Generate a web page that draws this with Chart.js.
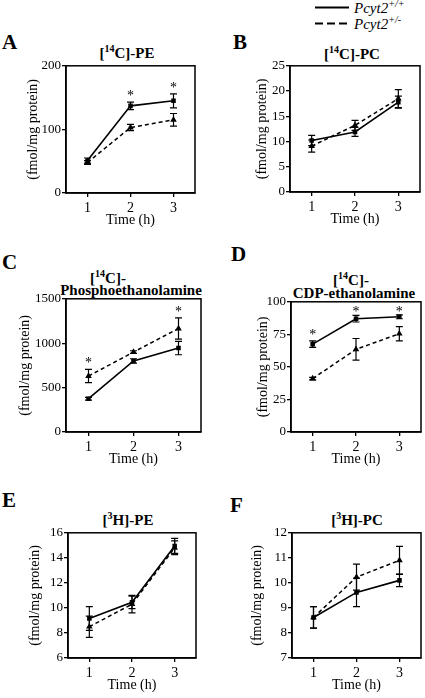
<!DOCTYPE html>
<html>
<head>
<meta charset="utf-8">
<script src="https://cdn.jsdelivr.net/npm/chart.js@4"></script>
<style>
  body { margin: 0; width: 425px; height: 698px; overflow: hidden; background: #fff; position: relative;
         font-family: "Liberation Serif", "DejaVu Serif", "Times New Roman", serif; color: #000; }
  canvas { position: absolute; }
  .lbl { position: absolute; white-space: nowrap; }
  .let { font-size: 21px; line-height: 21px; font-weight: bold; }
  .ttl { font-size: 15px; line-height: 15px; font-weight: bold; transform: translateX(-50%); }
  .leg { font-size: 15px; line-height: 15px; font-style: italic; }
  sup { font-size: 10px; line-height: 0; }
</style>
</head>
<body>
<!-- panel letters -->
<div class="lbl let" style="left:2px;top:32px">A</div>
<div class="lbl let" style="left:233px;top:32px">B</div>
<div class="lbl let" style="left:2px;top:252px">C</div>
<div class="lbl let" style="left:231px;top:244px">D</div>
<div class="lbl let" style="left:2px;top:490px">E</div>
<div class="lbl let" style="left:230px;top:495px">F</div>

<!-- panel titles -->
<div class="lbl ttl" style="left:127px;top:46px">[<sup>14</sup>C]-PE</div>
<div class="lbl ttl" style="left:352px;top:47px">[<sup>14</sup>C]-PC</div>
<div class="lbl ttl" style="left:108px;top:271px">[<sup>14</sup>C]-</div>
<div class="lbl ttl" style="left:131px;top:283px">Phosphoethanolamine</div>
<div class="lbl ttl" style="left:351px;top:273px">[<sup>14</sup>C]-</div>
<div class="lbl ttl" style="left:354px;top:286px">CDP-ethanolamine</div>
<div class="lbl ttl" style="left:128px;top:513px">[<sup>3</sup>H]-PE</div>
<div class="lbl ttl" style="left:357px;top:513px">[<sup>3</sup>H]-PC</div>

<!-- legend -->
<svg style="position:absolute;left:314px;top:0" width="36" height="30">
  <line x1="1" y1="7.5" x2="35" y2="7.5" stroke="#000" stroke-width="2"/>
  <line x1="1" y1="23.5" x2="35" y2="23.5" stroke="#000" stroke-width="2" stroke-dasharray="8,4"/>
</svg>
<div class="lbl leg" style="left:354px;top:1px">Pcyt2<sup>+/+</sup></div>
<div class="lbl leg" style="left:354px;top:17px">Pcyt2<sup>+/-</sup></div>

<script>
const times = [1, 2, 3];

// A: [14C]-PE
const aTicks = [0, 100, 200];
const aWt = [51, 137, 145], aWtErr = [4, 6, 11];
const aHet = [48, 103, 115], aHetErr = [3, 5, 10];
const aStars = [0, 1, 1];

// B: [14C]-PC
const bTicks = [0, 5, 10, 15, 20, 25];
const bWt = [10.2, 11.9, 17.8], bWtErr = [1.0, 0.9, 1.2];
const bHet = [9.1, 13.2, 18.5], bHetErr = [1.2, 1.0, 1.8];
const bStars = [0, 0, 0];

// C: [14C]-Phosphoethanolamine
const cTicks = [0, 500, 1000, 1500];
const cWt = [375, 800, 945], cWtErr = [15, 25, 75];
const cHet = [630, 900, 1165], cHetErr = [75, 15, 120];
const cStars = [1, 0, 1];

// D: [14C]-CDP-ethanolamine
const dTicks = [0, 25, 50, 75, 100];
const dWt = [67.5, 87, 88.5], dWtErr = [2.5, 2.5, 1.5];
const dHet = [41, 63.5, 75.5], dHetErr = [1, 8.3, 5.5];
const dStars = [1, 1, 1];

// E: [3H]-PE
const eTicks = [6, 8, 10, 12, 14, 16];
const eWt = [9.15, 10.45, 14.95], eWtErr = [0.95, 0.5, 0.6];
const eHet = [8.5, 10.3, 14.8], eHetErr = [0.85, 0.7, 0.55];
const eStars = [0, 0, 0];

// F: [3H]-PC
const fTicks = [7, 8, 9, 10, 11, 12];
const fWt = [8.62, 9.62, 10.1], fWtErr = [0.43, 0.57, 0.25];
const fHet = [8.62, 10.23, 10.9], fHetErr = [0.43, 0.52, 0.56];
const fStars = [0, 0, 0];

const serif = '"Liberation Serif", "DejaVu Serif", serif';

// error bars, asterisks and the closed frame round the plot
const extras = {
  id: 'extras',
  afterDatasetsDraw(chart) {
    const ctx = chart.ctx, ys = chart.scales.y;
    ctx.save();
    ctx.strokeStyle = '#000';
    ctx.lineWidth = 1.2;
    chart.data.datasets.forEach((ds, i) => {
      const meta = chart.getDatasetMeta(i);
      ds.errors.forEach((e, j) => {
        const x = meta.data[j].x;
        const v = ds.data[j].y;
        const y1 = ys.getPixelForValue(v + e), y2 = ys.getPixelForValue(v - e);
        ctx.beginPath();
        ctx.moveTo(x, y1); ctx.lineTo(x, y2);
        ctx.moveTo(x - 3.5, y1); ctx.lineTo(x + 3.5, y1);
        ctx.moveTo(x - 3.5, y2); ctx.lineTo(x + 3.5, y2);
        ctx.stroke();
      });
    });
    ctx.restore();
  },
  afterDraw(chart, args, opts) {
    const ctx = chart.ctx, a = chart.chartArea;
    const xs = chart.scales.x, ys = chart.scales.y;
    ctx.save();
    ctx.strokeStyle = '#000';
    ctx.lineWidth = 1.5;
    ctx.strokeRect(a.left, a.top, a.right - a.left, a.bottom - a.top);
    ctx.fillStyle = '#000';
    ctx.font = '14px ' + serif;
    ctx.textAlign = 'center';
    opts.stars.forEach((s, j) => {
      if (!s) return;
      let top = -Infinity;
      chart.data.datasets.forEach(ds => { top = Math.max(top, ds.data[j].y + ds.errors[j]); });
      let cy = ys.getPixelForValue(top) - 9;
      cy = Math.max(cy, a.top + 7);
      ctx.fillText('*', xs.getPixelForValue(times[j]), cy + 7);
    });
    ctx.restore();
  }
};

function panel(box, yTicks, wt, wtErr, het, hetErr, stars, yOff) {
  const padR = Math.min(4, 425 - box[2]);
  const cv = document.createElement('canvas');
  cv.width = box[2] - box[0] + 66 + padR;
  cv.height = box[3] - box[1] + 6 + 38;
  cv.style.left = (box[0] - 66) + 'px';
  cv.style.top = (box[1] - 6) + 'px';
  document.body.appendChild(cv);

  const pts = vals => times.map((t, i) => ({ x: t, y: vals[i] }));
  const gridOpts = { drawOnChartArea: false, drawTicks: true, tickLength: 4, color: '#000', lineWidth: 1.3 };

  new Chart(cv, {
    type: 'line',
    data: {
      datasets: [
        { data: pts(het), errors: hetErr, borderColor: '#000', backgroundColor: '#000', borderWidth: 1.5,
          borderDash: [4, 3], pointStyle: 'triangle', pointRadius: 3.8, pointBorderWidth: 0 },
        { data: pts(wt), errors: wtErr, borderColor: '#000', backgroundColor: '#000', borderWidth: 1.6,
          pointStyle: 'rect', pointRadius: 3.2, pointBorderWidth: 0 }
      ]
    },
    options: {
      responsive: false,
      animation: false,
      devicePixelRatio: 1,
      layout: { padding: { top: 6, right: padR, left: 0, bottom: 0 } },
      plugins: { legend: { display: false }, tooltip: { enabled: false }, extras: { stars: stars } },
      scales: {
        x: {
          type: 'linear', min: 0.5, max: 3.5,
          afterBuildTicks: s => { s.ticks = times.map(v => ({ value: v })); },
          afterFit: s => { s.height = 38; },
          grid: gridOpts,
          border: { color: '#000', width: 1.5 },
          ticks: { color: '#000', font: { family: serif, size: 14 }, padding: 3, maxRotation: 0,
                   callback: v => String(v) },
          title: { display: true, text: 'Time (h)', color: '#000', font: { family: serif, size: 14 },
                   padding: { top: 0, bottom: 2 } }
        },
        y: {
          min: yTicks[0], max: yTicks[yTicks.length - 1],
          afterBuildTicks: s => { s.ticks = yTicks.map(v => ({ value: v })); },
          afterFit: s => { s.width = 66; },
          grid: gridOpts,
          border: { color: '#000', width: 1.5 },
          ticks: { color: '#000', font: { family: serif, size: 13 }, padding: 1, callback: v => String(v) },
          title: { display: true, text: '(fmol/mg protein)', color: '#000', font: { family: serif, size: 14 },
                   padding: { top: 66 - yOff - 8.4, bottom: 0 } }
        }
      }
    },
    plugins: [extras]
  });
}

panel([66, 63, 195, 193], aTicks, aWt, aWtErr, aHet, aHetErr, aStars, 33);
panel([290, 63, 420, 192], bTicks, bWt, bWtErr, bHet, bHetErr, bStars, 28);
panel([66, 296, 201, 432], cTicks, cWt, cWtErr, cHet, cHetErr, cStars, 41);
panel([291, 299, 423, 432], dTicks, dWt, dWtErr, dHet, dHetErr, dStars, 28);
panel([68, 530, 196, 658], eTicks, eWt, eWtErr, eHet, eHetErr, eStars, 33);
panel([292, 530, 421, 658], fTicks, fWt, fWtErr, fHet, fHetErr, fStars, 35);
</script>
</body>
</html>
